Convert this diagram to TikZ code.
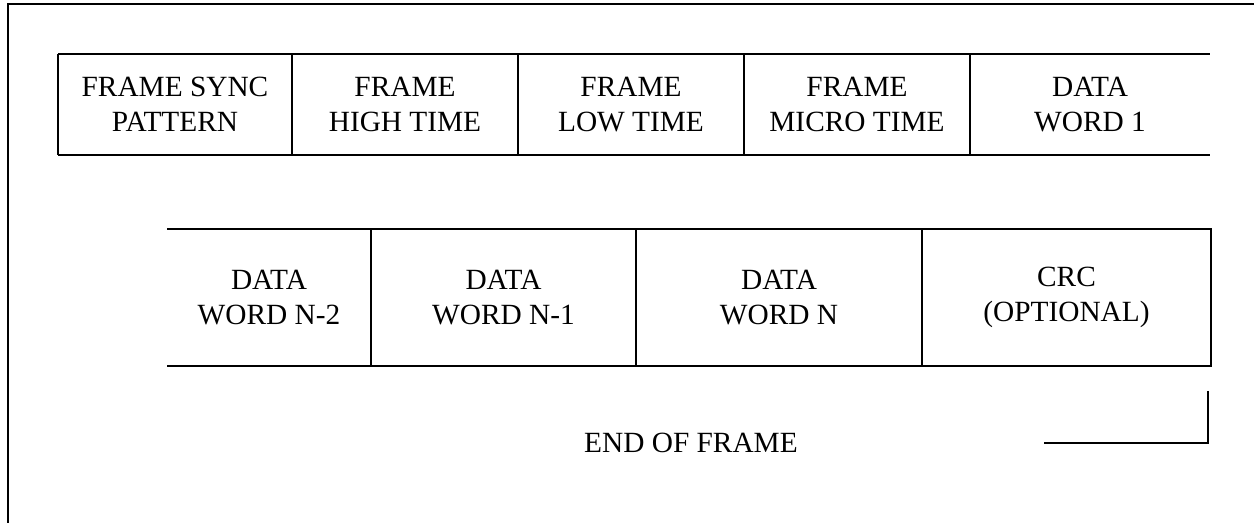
\documentclass[tikz,border=0pt]{standalone}
\usepackage{fontspec}
\setmainfont{Liberation Serif}
\usepackage{tikz}

\begin{document}
\begin{tikzpicture}[x=0.75pt,y=-0.75pt,line width=1.1pt,
  cell/.style={inner sep=0pt,outer sep=0pt,align=center,font=\fontsize{22}{26.5}\selectfont},
  top/.style={cell,minimum height=75.75pt},
  bot/.style={cell,minimum height=102.75pt}]
\useasboundingbox (0,0) rectangle (1254,523);

\node[top,minimum width=175.5pt] (sync) at (175,104.5) {FRAME SYNC\\PATTERN};
\node[top,minimum width=169.5pt] (high) at (405,104.5) {FRAME\\HIGH TIME};
\node[top,minimum width=169.5pt] (low) at (631,104.5) {FRAME\\LOW TIME};
\node[top,minimum width=169.5pt] (micro) at (857,104.5) {FRAME\\MICRO TIME};
\node[top,minimum width=180pt] (word1) at (1090,104.5) {DATA\\WORD 1};

\node[bot,minimum width=153pt] (wordn2) at (269,297.5) {DATA\\WORD N-2};
\node[bot,minimum width=198.75pt] (wordn1) at (503.5,297.5) {DATA\\WORD N-1};
\node[bot,minimum width=214.5pt] (wordn) at (779,297.5) {DATA\\WORD N};
\node[bot,minimum width=216.75pt] (crc) at (1066.5,297.5) {CRC\\(OPTIONAL)};

\node[cell] (eof) at (691,443) {END OF FRAME};
\coordinate (eofA) at (1208,391);
\coordinate (eofB) at (1208,443);
\coordinate (eofC) at (1044,443);

% outer frame
\draw (8,523) -- (8,4) -- (1254,4);

% first row
\draw (sync.north west) -- (word1.north east);
\draw (sync.south west) -- (word1.south east);
\draw (sync.north west) -- (sync.south west);
\foreach \from in {sync,high,low,micro}
\draw (\from.north east) -- (\from.south east);

% second row
\draw (wordn2.north west) -- (crc.north east) -- (crc.south east) -- (wordn2.south west);
\foreach \from in {wordn2,wordn1,wordn}
\draw (\from.north east) -- (\from.south east);

% end of frame
\draw (eofA) -- (eofB) -- (eofC);
\end{tikzpicture}
\end{document}
